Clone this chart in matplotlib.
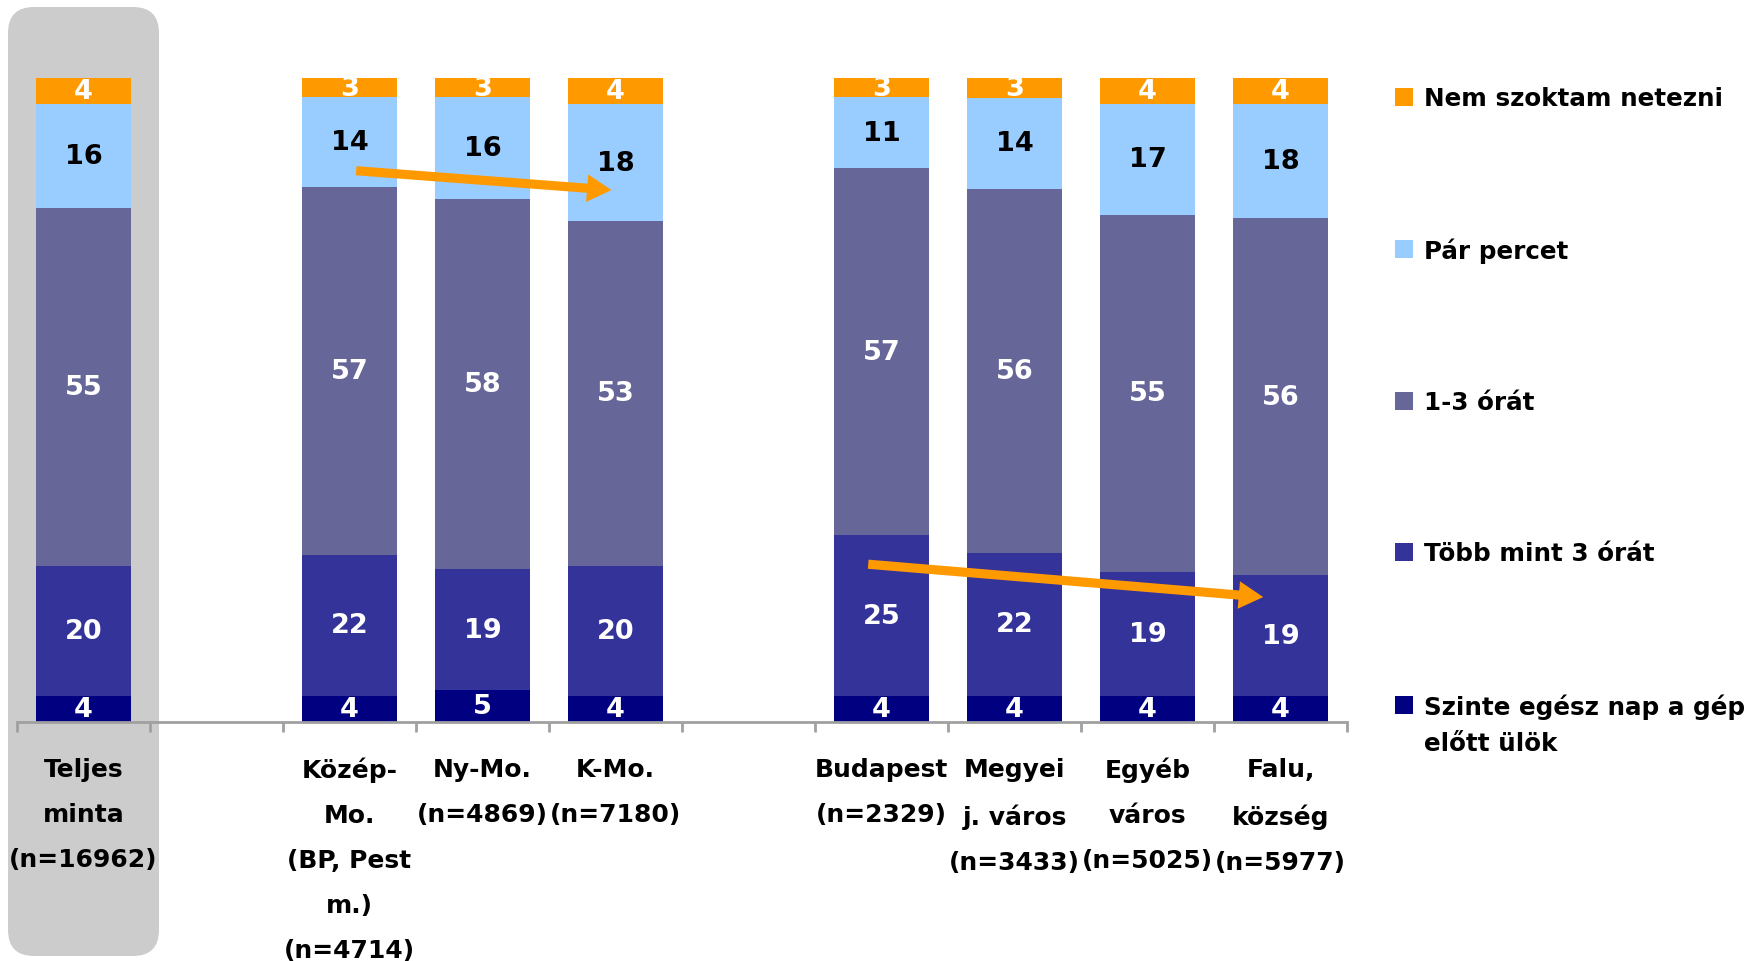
import numpy as np
import matplotlib.pyplot as plt
from matplotlib.patches import FancyBboxPatch, Rectangle
from matplotlib.transforms import IdentityTransform

nan = np.nan

# kategóriák (üres helyek = elválasztók)
categories = [
    "Teljes\nminta\n(n=16962)", "",
    "Közép-\nMo.\n(BP, Pest\nm.)\n(n=4714)", "Ny-Mo.\n(n=4869)", "K-Mo.\n(n=7180)", "",
    "Budapest\n(n=2329)", "Megyei\nj. város\n(n=3433)", "Egyéb\nváros\n(n=5025)",
    "Falu,\nközség\n(n=5977)",
]

# értékek (%), alulról felfelé
egesz_nap = [4, nan, 4, 5, 4, nan, 4, 4, 4, 4]
tobb_3 = [20, nan, 22, 19, 20, nan, 25, 22, 19, 19]
ora_1_3 = [55, nan, 57, 58, 53, nan, 57, 56, 55, 56]
par_perc = [16, nan, 14, 16, 18, nan, 11, 14, 17, 18]
nem_net = [4, nan, 3, 3, 4, nan, 3, 3, 4, 4]

series_names = ["Szinte egész nap a gép\nelőtt ülök", "Több mint 3 órát", "1-3 órát",
                "Pár percet", "Nem szoktam netezni"]
series = [egesz_nap, tobb_3, ora_1_3, par_perc, nem_net]
colors = ["#000080", "#333399", "#666699", "#99CCFF", "#FF9900"]
text_colors = ["white", "white", "white", "black", "white"]

W, H = 1745, 962
fig = plt.figure(figsize=(W / 100, H / 100), dpi=100)

# szürke háttér a teljes minta mögött
bg = FancyBboxPatch((8, H - 957), 151, 949, boxstyle="round,pad=0,rounding_size=26",
                    transform=IdentityTransform(), facecolor="#CCCCCC", edgecolor="none",
                    zorder=-5)
fig.add_artist(bg)

ax = fig.add_axes([17 / W, (H - 723) / H, 1330 / W, 644 / H])
ax.patch.set_visible(False)

x = np.arange(len(categories))
data = np.array(series, dtype=float)
totals = np.nansum(data, axis=0)
totals[totals == 0] = 1
shares = data / totals * 100

bottom = np.zeros(len(categories))
for vals, pct, col, tcol in zip(series, shares, colors, text_colors):
    h = np.nan_to_num(pct)
    bars = ax.bar(x, h, 0.72, bottom=bottom, color=col, zorder=2)
    labels = ["" if np.isnan(v) else f"{v:.0f}" for v in vals]
    ax.bar_label(bars, labels=labels, label_type="center", color=tcol, fontsize=19.5,
                 fontweight="bold", zorder=3)
    bottom += h

# nyilak
arrow = dict(arrowstyle="simple,head_length=0.8,head_width=0.9,tail_width=0.3",
             color="#FF9900", lw=0, mutation_scale=22, shrinkA=0, shrinkB=0)
ax.annotate("", xy=(3.97, 82.6), xytext=(2.05, 85.6), arrowprops=arrow, zorder=5)
ax.annotate("", xy=(8.87, 19.4), xytext=(5.9, 24.5), arrowprops=arrow, zorder=5)

ax.set_xlim(-0.5, len(categories) - 0.5)
ax.set_ylim(0, 100)
for s in ["left", "right", "top"]:
    ax.spines[s].set_visible(False)
ax.spines["bottom"].set_color("#A0A0A0")
ax.spines["bottom"].set_linewidth(2)
ax.set_yticks([])
ax.set_xticks(x)
ax.set_xticklabels(categories, fontsize=18, fontweight="bold", linespacing=2.1)
ax.tick_params(axis="x", which="major", length=0, pad=25)
ax.set_xticks(np.arange(-0.5, len(categories)), minor=True)
ax.tick_params(axis="x", which="minor", length=7, width=2, color="#A0A0A0", direction="out")

# jelmagyarázat
leg_y = [98, 250, 402, 553, 706]
for name, col, y in zip(series_names[::-1], colors[::-1], leg_y):
    fig.add_artist(Rectangle((1395, H - y - 9), 18, 18, transform=IdentityTransform(),
                             facecolor=col, edgecolor="none"))
    fig.text(1424 / W, (H - y + 11) / H, name, fontsize=17.7, fontweight="bold",
             va="top", ha="left", linespacing=1.6)

fig.savefig("out.png", dpi=100)
